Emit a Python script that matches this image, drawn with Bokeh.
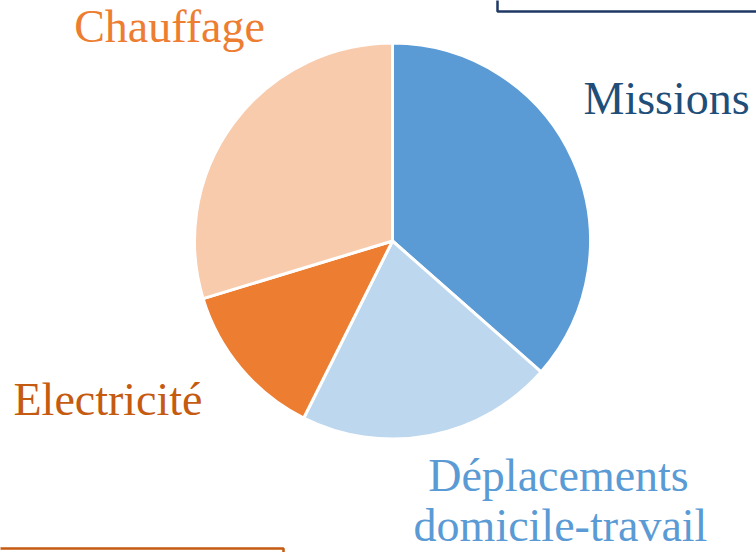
import math
from bokeh.plotting import figure
from bokeh.models import Range1d, ColumnDataSource
from bokeh.core.properties import value
from bokeh.embed import file_html
from bokeh.resources import INLINE

# ---- data ----
categories = ["Missions", "Déplacements domicile-travail", "Electricité", "Chauffage"]
shares = [36.5, 20.9, 12.9, 29.7]
slice_colors = ["#5B9BD5", "#BDD7EE", "#ED7D31", "#F8CBAD"]

# ---- label layout (text lines, anchor positions in px, y measured upward; colours) ----
label_lines = ["Missions", "Déplacements", "domicile-travail", "Electricité", "Chauffage"]
label_x = [583, 558, 560, 13, 169]
label_y = [454, 77, 27, 153, 526]
label_align = ["left", "center", "center", "left", "center"]
label_colors = ["#1F4E79", "#5B9BD5", "#5B9BD5", "#C55A11", "#ED7D31"]

W, H = 756, 552
cx, cy, r = 392, 311.5, 198

p = figure(width=W, height=H, output_backend="svg", toolbar_location=None,
           x_range=Range1d(0, W), y_range=Range1d(0, H), min_border=0)
p.axis.visible = False
p.grid.visible = False
p.outline_line_color = None
p.background_fill_color = "white"

total = sum(shares)
starts, ends = [], []
acc = 0.0
for s in shares:
    starts.append(math.pi / 2 - 2 * math.pi * acc / total)
    acc += s
    ends.append(math.pi / 2 - 2 * math.pi * acc / total)

src = ColumnDataSource(dict(cat=categories, start=starts, end=ends, color=slice_colors,
                            x=[cx] * 4, y=[cy] * 4))
p.wedge(x="x", y="y", radius=r, start_angle="start", end_angle="end", direction="clock",
        fill_color="color", line_color="white", line_width=3, source=src)

lsrc = ColumnDataSource(dict(text=label_lines, x=label_x, y=label_y, align=label_align,
                             color=label_colors))
p.text(x="x", y="y", text="text", text_align="align", text_baseline="alphabetic",
       text_color="color", text_font=value("Liberation Serif"), text_font_size="46px",
       source=lsrc)

# decorative frames (top right, bottom left)
p.quad(left=[497], right=[790], bottom=[541], top=[600], fill_color=None,
       line_color="#1F3864", line_width=2.5)
p.quad(left=[-40], right=[283], bottom=[-40], top=[4], fill_color=None,
       line_color="#C55A11", line_width=2.5)

open("out.html", "w").write(file_html(p, INLINE))
